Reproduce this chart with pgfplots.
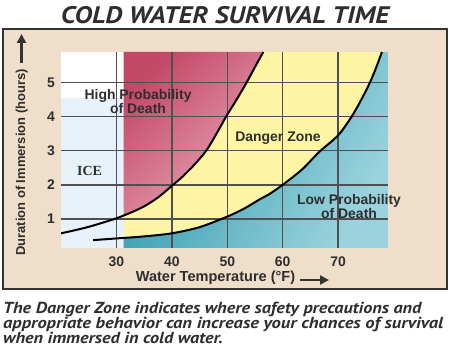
\documentclass[border=0pt]{standalone}
\usepackage{pgfplots}
\pgfplotsset{compat=1.18}
\usepackage{fontspec}
\usetikzlibrary{arrows.meta}
\setmainfont{Liberation Sans}
\newfontfamily\capfont{PT Sans}
\newfontfamily\icefont{Liberation Serif}
\definecolor{beige}{HTML}{EFDEC9}
\definecolor{bordc}{HTML}{333333}
\definecolor{redD}{HTML}{C44868}
\definecolor{redL}{HTML}{E8A8B8}
\definecolor{yel}{HTML}{FDF5A4}
\definecolor{tealD}{HTML}{2A96A9}
\definecolor{tealL}{HTML}{9AD3DD}
\definecolor{iceB}{HTML}{E6F1FA}
\definecolor{gridc}{HTML}{505050}
\definecolor{txt}{HTML}{2E2E2E}
\begin{document}
\begin{tikzpicture}
\path[use as bounding box] (0,0) rectangle (450bp,358bp);
\filldraw[fill=beige, draw=bordc, line width=2bp] (2.5bp,69bp) rectangle (446.5bp,328.5bp);
\node[anchor=base, text=txt, inner sep=0pt] at (225bp,334.7bp)
  {\scalebox{1.13}[1]{\capfont\bfseries\itshape\fontsize{24}{24}\selectfont COLD WATER SURVIVAL TIME}};
\begin{axis}[
  clip mode=individual,
  at={(61bp,110bp)}, anchor=south west,
  scale only axis, width=327bp, height=196bp,
  xmin=20, xmax=79, ymin=0.15, ymax=5.89,
  xtick={30,40,50,60,70}, ytick={1,2,3,4,5},
  axis line style={draw=none}, major tick length=0pt,
  /pgf/number format/assume math mode=true,
  ticklabel style={font=\fontsize{14}{14}\selectfont\bfseries, text=txt},
  xticklabel style={yshift=-5bp},
  yticklabel style={xshift=-2.5bp},
  xlabel={Water Temperature (°F)},
  ylabel={Duration of Immersion (hours)},
  xlabel style={at={(rel axis cs:0.4725,-0.153)}, anchor=center, font=\fontsize{14.6}{14.6}\selectfont\bfseries, text=txt, inner sep=0pt},
  ylabel style={at={(rel axis cs:-0.1202,0.436)}, anchor=center, font=\fontsize{13}{13}\selectfont\bfseries, text=txt, inner sep=0pt},
]
% ice zone
\addplot[draw=none, fill=iceB] coordinates {(20,0.15) (31.3,0.15) (31.3,4.55) (20,4.55)} -- cycle;
\addplot[draw=none, fill=white] coordinates {(20,4.55) (31.3,4.55) (31.3,5.89) (20,5.89)} -- cycle;
% danger (yellow) zone
\addplot[draw=none, fill=yel] coordinates {(31.3,0.15) (79,0.15) (79,5.89) (31.3,5.89)} -- cycle;
% high probability (red) zone
\addplot[draw=none, top color=redD, bottom color=redL, shading angle=45] coordinates {
(31.3,5.89) (31.3,1.10) (32.5,1.18) (35,1.37) (37.5,1.63) (40,1.97) (42,2.25) (44,2.58) (46.2,3.0) (48,3.48) (49.8,4.0) (51.7,4.5) (53.5,5.0) (55,5.45) (56.5,5.89)} -- cycle;
% low probability (teal) zone
\addplot[draw=none, left color=tealD, right color=tealL, shading angle=60] coordinates {
(31.3,0.15) (31.3,0.45) (35,0.49) (40,0.58) (45,0.76) (50,1.07) (53,1.3) (55.9,1.58) (57.6,1.73) (60,2.0) (63.5,2.45) (66.5,2.95) (70,3.45) (72.45,4.0) (74.2,4.5) (75.75,5.0) (76.9,5.45) (77.9,5.89) (79,5.89) (79,0.15)} -- cycle;
% grid lines
\addplot[draw=gridc, line width=1.4bp] coordinates {(30,0.15) (30,5.89)};
\addplot[draw=gridc, line width=1.4bp] coordinates {(40,0.15) (40,5.89)};
\addplot[draw=gridc, line width=1.4bp] coordinates {(50,0.15) (50,5.89)};
\addplot[draw=gridc, line width=1.4bp] coordinates {(60,0.15) (60,5.89)};
\addplot[draw=gridc, line width=1.4bp] coordinates {(70,0.15) (70,5.89)};
\addplot[draw=gridc, line width=1.4bp] coordinates {(20,1) (79,1)};
\addplot[draw=gridc, line width=1.4bp] coordinates {(20,2) (79,2)};
\addplot[draw=gridc, line width=1.4bp] coordinates {(20,3) (79,3)};
\addplot[draw=gridc, line width=1.4bp] coordinates {(20,4) (79,4)};
\addplot[draw=gridc, line width=1.4bp] coordinates {(20,5) (79,5)};
% boundary curves
\addplot[black, line width=2bp, smooth] coordinates {
(20,0.58) (22.5,0.67) (25,0.77) (27.5,0.89) (30,1.02) (32.5,1.18) (35,1.37) (37.5,1.63) (40,1.97) (42,2.25) (44,2.58) (46.2,3.0) (48,3.48) (49.8,4.0) (51.7,4.5) (53.5,5.0) (55,5.45) (56.5,5.89)};
\addplot[black, line width=2bp, smooth] coordinates {
(25.8,0.38) (30,0.43) (35,0.49) (40,0.58) (45,0.76) (50,1.07) (53,1.3) (55.9,1.58) (57.6,1.73) (60,2.0) (63.5,2.45) (66.5,2.95) (70,3.45) (72.45,4.0) (74.2,4.5) (75.75,5.0) (76.9,5.45) (77.9,5.89)};
% zone labels
\node[align=center, text=txt, font=\fontsize{14}{14}\selectfont\bfseries, inner sep=0pt] at (axis cs:33.9,4.43) {High Probability\\of Death};
\node[text=txt, font=\fontsize{14}{14}\selectfont\bfseries, inner sep=0pt] at (axis cs:59.15,3.38) {Danger Zone};
\node[align=center, text=txt, font=\fontsize{14}{14}\selectfont\bfseries, inner sep=0pt] at (axis cs:71.97,1.37) {Low Probability\\of Death};
\node[text=txt, font=\icefont\fontsize{14}{14}\selectfont\bfseries, inner sep=0pt] at (axis cs:25.14,2.42) {ICE};
\end{axis}
% axis arrows
\draw[line width=2.5bp, bordc, -{Triangle[length=9bp,width=9bp]}] (300bp,78bp) -- (329bp,78bp);
\draw[line width=2.5bp, bordc, -{Triangle[length=9bp,width=9bp]}] (21.5bp,295bp) -- (21.5bp,324bp);
% caption
\begin{scope}[every node/.style={anchor=base west, inner sep=0pt, text=txt}]
\node at (3bp,44.7bp) {\scalebox{1.14}[1]{\capfont\bfseries\itshape\fontsize{16}{16}\selectfont The Danger Zone indicates where safety precautions and}};
\node at (3bp,30bp) {\scalebox{1.16}[1]{\capfont\bfseries\itshape\fontsize{16}{16}\selectfont appropriate behavior can increase your chances of survival}};
\node at (3bp,15bp) {\scalebox{1.14}[1]{\capfont\bfseries\itshape\fontsize{16}{16}\selectfont when immersed in cold water.}};
\end{scope}
\end{tikzpicture}
\end{document}
